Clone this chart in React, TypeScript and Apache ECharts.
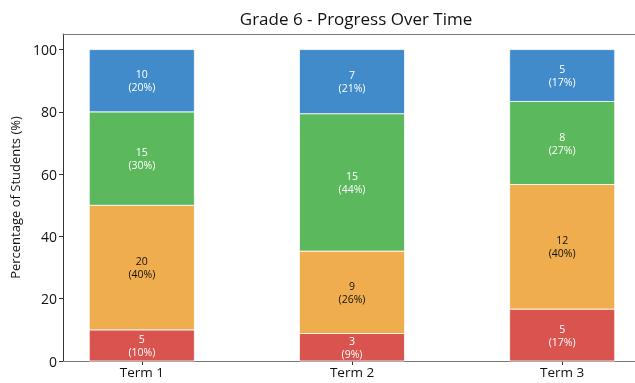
import React, { useEffect, useRef } from "react";
import * as echarts from "echarts";

const terms = ["Term 1", "Term 2", "Term 3"];
const levels = ["Level 1", "Level 2", "Level 3", "Level 4"];
const level1 = [5, 3, 5];
const level2 = [20, 9, 12];
const level3 = [15, 15, 8];
const level4 = [10, 7, 5];
const levelColors = ["#d9534f", "#f0ad4e", "#5cb85c", "#428bca"];
const labelColors = ["#ffffff", "#111111", "#ffffff", "#ffffff"];
const yTicks = [0, 20, 40, 60, 80, 100];

const FONT = "'Open Sans', 'Noto Sans', sans-serif";
const BAR_WIDTH = 0.5; // in x-axis units

export default function App() {
  const ref = useRef<HTMLDivElement>(null);

  useEffect(() => {
    if (!ref.current) return;
    const chart = echarts.init(ref.current, undefined, { renderer: "svg" });
    const counts = [level1, level2, level3, level4];
    const totals = terms.map((_, i) => counts.reduce((s, arr) => s + arr[i], 0));

    // Stacked percentage segments: [term index, base %, top %, count, level index]
    const segments: number[][] = [];
    terms.forEach((_, i) => {
      let base = 0;
      counts.forEach((arr, k) => {
        const pct = (arr[i] / totals[i]) * 100;
        segments.push([i, base, base + pct, arr[i], k]);
        base += pct;
      });
    });

    const renderItem = (_params: any, api: any) => {
      const x = api.value(0);
      const base = api.value(1);
      const top = api.value(2);
      const count = api.value(3);
      const k = api.value(4);
      const p0 = api.coord([x, base]);
      const p1 = api.coord([x, top]);
      const w = api.size([BAR_WIDTH, 0])[0];
      const pct = Math.round(top - base);
      return {
        type: "rect",
        shape: { x: p0[0] - w / 2, y: p1[1], width: w, height: p0[1] - p1[1] },
        style: { fill: levelColors[k], stroke: "#ffffff", lineWidth: 0.8 },
        textContent: {
          style: {
            text: `${count}\n(${pct}%)`,
            fill: labelColors[k],
            fontFamily: FONT,
            fontSize: 10.5,
            lineHeight: 13,
            align: "center",
            verticalAlign: "middle",
          },
        },
        textConfig: { position: "inside" },
      };
    };

    chart.setOption({
      animation: false,
      textStyle: { fontFamily: FONT },
      title: {
        text: "Grade 6 - Progress Over Time",
        left: 351,
        textAlign: "center",
        top: 5,
        textStyle: { fontFamily: FONT, fontSize: 17, fontWeight: "normal", color: "#111" },
      },
      grid: { left: 61, right: 0, top: 34, bottom: 22 },
      xAxis: [
        {
          type: "value",
          min: -0.375,
          max: 2.375,
          splitLine: { show: false },
          axisLine: { show: true, onZero: false, lineStyle: { color: "#777", width: 1 } },
          axisTick: { show: true, customValues: [0, 1, 2], length: 4, lineStyle: { color: "#333" } },
          axisLabel: {
            customValues: [0, 1, 2],
            formatter: (v: number) => terms[Math.round(v)] ?? "",
            color: "#111",
            fontSize: 13.5,
            fontFamily: FONT,
            margin: 4,
          },
        },
        {
          // top spine of the plot frame
          type: "value",
          position: "top",
          min: -0.375,
          max: 2.375,
          splitLine: { show: false },
          axisLine: { show: true, onZero: false, lineStyle: { color: "#777", width: 1 } },
          axisTick: { show: false },
          axisLabel: { show: false },
        },
      ],
      yAxis: {
        type: "value",
        min: 0,
        max: 105,
        interval: 20,
        name: "Percentage of Students (%)",
        nameLocation: "middle",
        nameGap: 42,
        nameTextStyle: { fontFamily: FONT, fontSize: 13, color: "#111" },
        splitLine: { show: false },
        axisLine: { show: true, onZero: false, lineStyle: { color: "#333", width: 1 } },
        axisTick: { show: true, length: 4, lineStyle: { color: "#333" } },
        axisLabel: {
          color: "#111",
          fontSize: 14,
          fontFamily: FONT,
          margin: 6,
          showMaxLabel: false,
          formatter: (v: number) => (yTicks.includes(v) ? String(v) : ""),
        },
      },
      series: [
        {
          type: "custom",
          name: "Students",
          renderItem,
          encode: { x: 0, y: [1, 2] },
          data: segments,
        },
      ],
    });
    return () => chart.dispose();
  }, []);

  // The plot frame runs slightly past the right edge of the window.
  return (
    <div
      ref={ref}
      style={{ position: "fixed", left: 0, top: 0, width: 641, height: 383 }}
    />
  );
}
